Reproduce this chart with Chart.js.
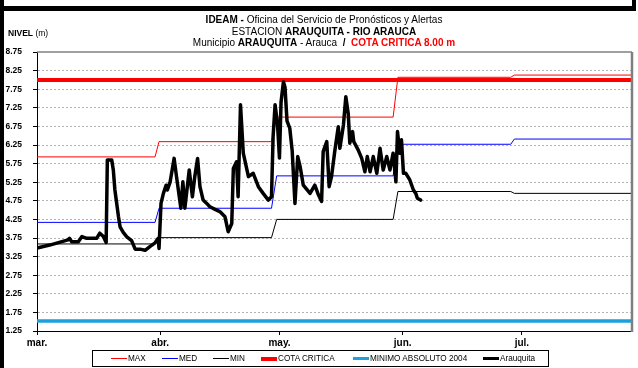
<!DOCTYPE html>
<html>
<head>
<meta charset="utf-8">
<script src="https://cdn.jsdelivr.net/npm/chart.js@4.4.1/dist/chart.umd.min.js"></script>
<style>
  html, body { margin: 0; padding: 0; background: #fff; }
  body {
    width: 638px; height: 368px; position: relative; overflow: hidden;
    font-family: "Liberation Sans", Arial, sans-serif; color: #000;
  }
  #chart { position: absolute; left: 0; top: 0; }
  .bar { position: absolute; background: #000; }
  .title {
    position: absolute; left: 0; width: 648px; text-align: center;
    font-size: 10px; line-height: 11px; white-space: nowrap;
  }
  .title b { font-weight: bold; }
  .red { color: #ff0000; }
  #nivel { position: absolute; left: 8px; top: 28px; font-size: 8.5px; white-space: nowrap; }
  #legend {
    position: absolute; left: 92px; top: 350px; width: 455px; height: 15px;
    border: 1px solid #000; font-size: 8.2px;
  }
  .item { position: absolute; top: 0; height: 15px; display: flex; align-items: center; white-space: nowrap; }
  .swatch { display: inline-block; width: 16px; margin-right: 1px; }
</style>
</head>
<body>
<canvas id="chart" width="638" height="368"></canvas>

<div class="bar" style="left:0;top:0;width:4px;height:368px"></div>
<div class="bar" style="left:0;top:6px;width:636px;height:5px"></div>
<div class="bar" style="left:632px;top:0;width:4px;height:11px"></div>

<div class="title" style="top:14px"><b>IDEAM -</b> Oficina del Servicio de Pronósticos y Alertas</div>
<div class="title" style="top:26px">ESTACION <b>ARAUQUITA - RIO ARAUCA</b></div>
<div class="title" style="top:37px">Municipio <b>ARAUQUITA</b> - Arauca <b>&nbsp;/&nbsp;</b> <b class="red">COTA CRITICA 8.00 m</b></div>
<div id="nivel"><b>NIVEL</b> (m)</div>
<div id="legend"></div>

<script>
// days counted from 1 March
const monthStartDays = [0, 31, 61, 92, 122];
const monthLabels = ["mar.", "abr.", "may.", "jun.", "jul."];
const levelTicks = [1.25, 1.75, 2.25, 2.75, 3.25, 3.75, 4.25, 4.75, 5.25, 5.75, 6.25, 6.75, 7.25, 7.75, 8.25, 8.75];
const lastDay = 149.7;

// monthly reference levels (step lines)
const refDays = [0, 29.7, 30.7, 59.0, 60.3, 89.6, 90.8, 119.2, 120.1, lastDay];
const maxLevels = [5.93, 5.93, 6.34, 6.34, 7.00, 7.00, 8.07, 8.07, 8.13, 8.13];
const medLevels = [4.17, 4.17, 4.55, 4.55, 5.42, 5.42, 6.27, 6.27, 6.41, 6.41];
const minLevels = [3.59, 3.59, 3.76, 3.76, 4.25, 4.25, 5.00, 5.00, 4.95, 4.95];

const limitDays = [0, lastDay];
const cotaCritica = [8.00, 8.00];
const minimoAbsoluto = [1.52, 1.52];

// observed level, estacion Arauquita
const obsDays = [
  0.3, 3.2, 7.8, 8.2, 8.7, 10.4, 11.3, 12.5, 15.0, 15.8, 16.7, 17.4, 17.7, 18.8, 19.2, 19.6,
  20.5, 20.9, 21.7, 22.6, 23.8, 24.7, 25.9, 27.2, 28.4, 29.7, 30.5, 30.7, 31.2, 31.8, 32.5, 32.8,
  33.5, 34.5, 35.1, 36.2, 36.7, 37.2, 38.3, 39.1, 39.7, 40.4, 41.0, 41.8, 42.7, 43.5, 44.8, 46.0,
  47.3, 48.1, 49.0, 49.4, 50.2, 50.6, 51.2, 51.9, 53.2, 54.4, 55.7, 56.9, 58.2, 59.0, 59.4, 59.9,
  60.5, 61.0, 61.4, 62.0, 62.4, 62.9, 63.6, 64.2, 64.9, 65.6, 66.2, 67.0, 68.7, 69.9, 70.8, 71.6,
  72.0, 72.9, 73.5, 74.1, 74.9, 75.8, 76.2, 77.1, 77.7, 78.3, 78.7, 79.4, 79.7, 80.8, 81.7, 82.5,
  83.1, 83.8, 84.6, 85.5, 86.3, 87.1, 88.0, 88.8, 89.6, 90.3, 90.7, 91.3, 91.7, 92.2, 92.8, 93.8,
  94.7, 95.3, 95.7, 96.5
];
const obsLevels = [
  3.49, 3.56, 3.70, 3.74, 3.65, 3.65, 3.79, 3.74, 3.74, 3.88, 3.79, 3.63, 5.85, 5.85, 5.58, 5.04,
  4.32, 4.05, 3.90, 3.78, 3.68, 3.45, 3.45, 3.42, 3.52, 3.62, 3.74, 3.47, 4.68, 4.95, 5.17, 5.04,
  5.26, 5.89, 5.40, 4.55, 5.26, 4.55, 5.58, 4.86, 5.40, 5.89, 5.13, 4.77, 4.68, 4.59, 4.52, 4.46,
  4.32, 3.92, 4.14, 5.62, 5.80, 4.86, 7.33, 6.03, 5.40, 5.49, 5.13, 4.95, 4.77, 4.86, 6.47, 7.33,
  6.83, 5.90, 7.40, 7.95, 7.80, 6.90, 6.70, 6.10, 4.68, 5.94, 5.67, 5.17, 4.95, 5.17, 4.91, 4.73,
  6.07, 6.34, 5.13, 5.40, 6.07, 6.74, 6.16, 6.79, 7.55, 7.10, 6.30, 6.61, 6.34, 6.12, 5.89, 5.53,
  5.94, 5.53, 5.94, 5.49, 6.16, 5.58, 5.94, 5.58, 6.03, 5.26, 6.61, 6.03, 6.39, 5.49, 5.49, 5.31,
  5.04, 4.95, 4.82, 4.77
];

const FONT = '"Liberation Sans", Arial, sans-serif';

function pairs(xs, ys) {
  return xs.map((x, i) => ({ x: x, y: ys[i] }));
}

const series = [
  { label: "MAX", color: "#ff0000", width: 1, data: pairs(refDays, maxLevels) },
  { label: "MED", color: "#0000ff", width: 1, data: pairs(refDays, medLevels) },
  { label: "MIN", color: "#000000", width: 1, data: pairs(refDays, minLevels) },
  { label: "COTA CRITICA", color: "#ff0000", width: 4, data: pairs(limitDays, cotaCritica) },
  { label: "MINIMO ABSOLUTO 2004", color: "#1ba1db", width: 3.5, data: pairs(limitDays, minimoAbsoluto) },
  { label: "Arauquita", color: "#000000", width: 3.5, data: pairs(obsDays, obsLevels) }
];

// gray frame on top and right of the plot area
const plotFrame = {
  id: "plotFrame",
  afterDatasetsDraw(chart) {
    const a = chart.chartArea;
    const ctx = chart.ctx;
    ctx.save();
    ctx.strokeStyle = "#808080";
    ctx.lineWidth = 1.5;
    ctx.beginPath();
    ctx.moveTo(a.left, a.top);
    ctx.lineTo(a.right, a.top);
    ctx.stroke();
    ctx.lineWidth = 2.5;
    ctx.beginPath();
    ctx.moveTo(a.right, a.top);
    ctx.lineTo(a.right, a.bottom + 1);
    ctx.stroke();
    ctx.restore();
  }
};

const chart = new Chart(document.getElementById("chart"), {
  type: "line",
  data: {
    datasets: series.map((s, i) => ({
      label: s.label,
      data: s.data,
      borderColor: s.color,
      borderWidth: s.width,
      pointRadius: 0,
      tension: 0,
      borderJoinStyle: "round",
      borderCapStyle: "round",
      order: series.length - i
    }))
  },
  options: {
    responsive: false,
    animation: false,
    devicePixelRatio: 1,
    layout: { padding: { left: 0, top: 52, right: 6, bottom: 0 } },
    plugins: { legend: { display: false }, tooltip: { enabled: false }, title: { display: false } },
    scales: {
      x: {
        type: "linear",
        min: 0,
        max: lastDay,
        afterBuildTicks: s => { s.ticks = monthStartDays.map(v => ({ value: v })); },
        afterFit: s => { s.height = 37; },
        ticks: {
          autoSkip: false,
          maxRotation: 0,
          padding: 2,
          color: "#000",
          font: { family: FONT, size: 10, weight: "bold" },
          callback: (v, i) => monthLabels[i]
        },
        grid: { drawOnChartArea: false, tickLength: 4, tickColor: "#000" },
        border: { color: "#000", width: 1 }
      },
      y: {
        min: 1.25,
        max: 8.75,
        afterBuildTicks: s => { s.ticks = levelTicks.map(v => ({ value: v })); },
        afterFit: s => { s.width = 37; },
        ticks: {
          autoSkip: false,
          padding: 11,
          color: "#000",
          font: { family: FONT, size: 8.5, weight: "bold" },
          callback: v => Number(v).toFixed(2)
        },
        grid: {
          color: c => (c.tick && (c.tick.value === 8.75 || c.tick.value === 1.25)) ? "rgba(0,0,0,0)" : "#b4b4b4",
          lineWidth: 1,
          tickLength: 4,
          tickColor: "#000",
          tickBorderDash: []
        },
        border: { color: "#000", width: 1, dash: [2, 2] }
      }
    }
  },
  plugins: [plotFrame]
});

// legend row below the axis
const legendLeft = [18, 69, 120, 168, 260, 390];
const legendEl = document.getElementById("legend");
series.forEach((s, i) => {
  const item = document.createElement("div");
  item.className = "item";
  item.style.left = legendLeft[i] + "px";
  const sw = document.createElement("span");
  sw.className = "swatch";
  sw.style.height = s.width + "px";
  sw.style.background = s.color;
  item.appendChild(sw);
  item.appendChild(document.createTextNode(s.label));
  legendEl.appendChild(item);
});
</script>
</body>
</html>
